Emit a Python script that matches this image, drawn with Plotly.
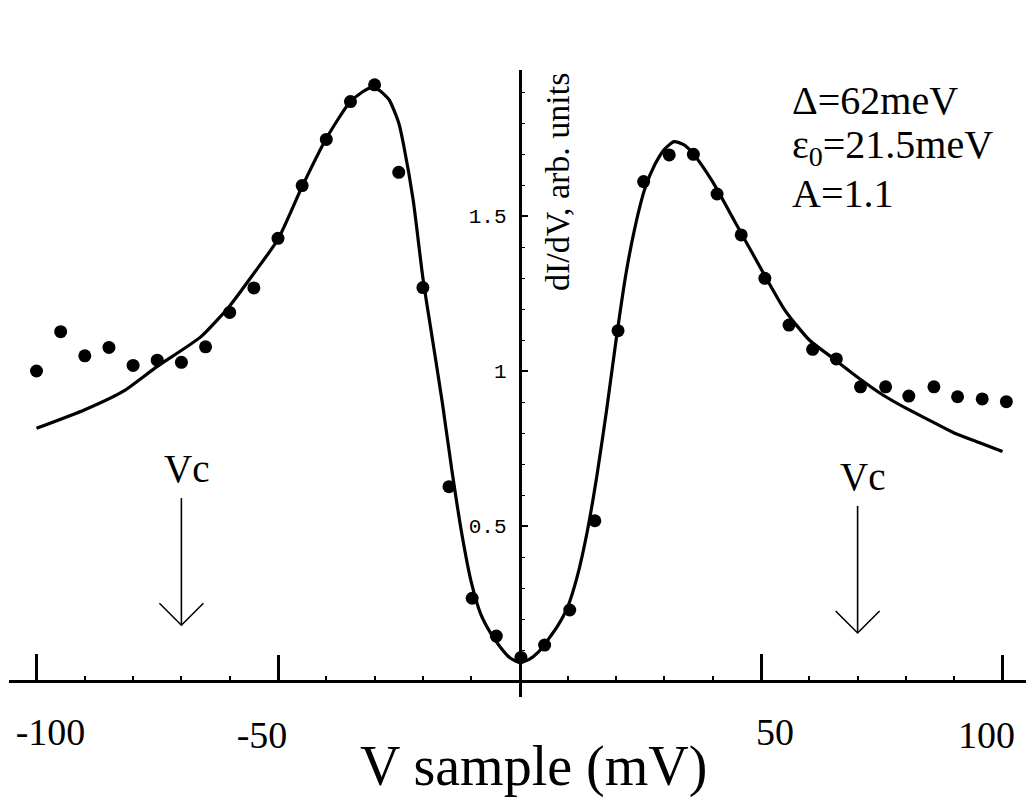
import plotly.graph_objects as go

# ---------------- data ----------------
pts_x = [-100.0, -95.0, -90.0, -85.0, -80.0, -75.0, -70.0, -65.0, -60.0, -55.0,
         -50.0, -45.0, -40.0, -35.0, -30.0, -25.0, -20.0, -14.6, -9.8, -4.8,
         0.3, 5.2, 10.4, 15.6, 20.4, 25.7, 31.0, 36.0, 40.9, 45.9,
         50.8, 55.8, 60.7, 65.6, 70.6, 75.8, 80.6, 85.8, 90.7, 95.8, 100.8]
pts_y = [1.000, 1.127, 1.049, 1.076, 1.018, 1.035, 1.028, 1.078, 1.189, 1.268,
         1.428, 1.598, 1.747, 1.869, 1.923, 1.641, 1.269, 0.627, 0.267, 0.145,
         0.076, 0.116, 0.229, 0.517, 1.130, 1.611, 1.697, 1.699, 1.571, 1.439,
         1.299, 1.148, 1.070, 1.039, 0.949, 0.949, 0.919, 0.949, 0.917, 0.910, 0.901]

fit_x = [-100, -90, -82, -75, -66, -60, -55, -50, -45, -40, -35, -32, -30.5, -29, -27,
         -25, -24, -22, -20, -18, -16, -14, -12, -10, -8, -6, -4, -2, 0, 2, 4, 6, 8,
         10, 12, 14, 16, 18, 20, 22, 24, 26, 28, 30, 32, 34, 36, 40, 45, 50, 55, 60,
         65, 70, 75, 80, 85, 90, 95, 100]
fit_y = [0.815, 0.875, 0.935, 1.015, 1.11, 1.21, 1.315, 1.425, 1.595, 1.75, 1.87, 1.905,
         1.915, 1.905, 1.875, 1.80, 1.73, 1.55, 1.30, 1.10, 0.90, 0.68, 0.48, 0.32, 0.215,
         0.155, 0.11, 0.075, 0.06, 0.07, 0.095, 0.135, 0.18, 0.24, 0.34, 0.48, 0.66, 0.87,
         1.10, 1.31, 1.47, 1.59, 1.665, 1.715, 1.74, 1.73, 1.70, 1.61, 1.47, 1.33, 1.195,
         1.10, 1.04, 0.98, 0.925, 0.88, 0.84, 0.80, 0.77, 0.74]

# major x ticks: printed labels sit a bit right of ticks -100/50 and left of -50/100
x_ticks_a = [-100, 50]
x_text_a = ["-100", "50"]
x_ticks_b = [-50, 100]
x_text_b = ["-50", "100"]
x_minor = [-90, -80, -70, -60, -40, -30, -20, -10, 10, 20, 30, 40, 60, 70, 80, 90]
y_tickvals = [0.5, 1, 1.5]
y_ticktext = ["0.5", "1", "1.5"]
y_minor = [0.1, 0.2, 0.3, 0.4, 0.6, 0.7, 0.8, 0.9, 1.1, 1.2, 1.3, 1.4, 1.6, 1.7, 1.8, 1.9]

vc_x = [-70, 70]
vc_tip = [0.18, 0.155]
vc_top = [0.59, 0.565]
vc_label = ["Vc", "Vc"]

params = ["Δ=62meV", "ε<sub>0</sub>=21.5meV", "A=1.1"]

# ---------------- figure ----------------
W, H = 1026, 803
L, R, T, B = 9, 0, 70, 106
pw, ph = W - L - R, H - T - B
x0px, xscale = 519.5, 4.83
y0px, yscale = 681.0, 310.0

xr = [(L - x0px) / xscale, (W - R - x0px) / xscale]
yr = [-(H - B - y0px) / yscale, (y0px - T) / yscale]

serif = "Liberation Serif, Times New Roman, serif"
mono = "Liberation Mono, Courier New, monospace"

fig = go.Figure()
fig.add_trace(go.Scatter(x=fit_x, y=fit_y, mode="lines",
                         line=dict(color="black", width=3.2, shape="spline", smoothing=0.6),
                         hoverinfo="skip", showlegend=False))
fig.add_trace(go.Scatter(x=pts_x, y=pts_y, mode="markers",
                         marker=dict(color="black", size=13),
                         showlegend=False))
# invisible copy on the overlay axis so that it is drawn
fig.add_trace(go.Scatter(x=pts_x, y=pts_y, mode="markers", xaxis="x2",
                         marker=dict(color="black", size=1, opacity=0),
                         hoverinfo="skip", showlegend=False))

def px2paper_x(p):
    return (p - L) / pw

def px2paper_y(p):
    return (H - B - p) / ph

xpos = (H - B - y0px) / ph
common_x = dict(range=xr, showgrid=False, zeroline=False, anchor="free", position=xpos,
                tickmode="array", ticks="inside", ticklen=26, tickwidth=2.5,
                tickcolor="black", ticklabeloverflow="allow",
                tickfont=dict(family=serif, size=38, color="black"))

fig.update_layout(
    width=W, height=H,
    margin=dict(l=L, r=R, t=T, b=B, pad=0, autoexpand=False),
    paper_bgcolor="white", plot_bgcolor="white",
    showlegend=False,
    xaxis=dict(**common_x, showline=True, linecolor="black", linewidth=3,
               tickvals=x_ticks_a, ticktext=x_text_a, ticklabelshift=14,
               ticklabelstandoff=16,
               minor=dict(tickmode="array", tickvals=x_minor, ticks="inside",
                          ticklen=4, tickwidth=1.5, tickcolor="black")),
    xaxis2=dict(**common_x, overlaying="x", showline=False,
                tickvals=x_ticks_b, ticktext=x_text_b, ticklabelshift=-16,
                ticklabelstandoff=28),
    yaxis=dict(range=yr, showgrid=False, zeroline=False,
               anchor="free", position=(x0px - L) / pw,
               showline=True, linecolor="black", linewidth=2.5,
               tickmode="array", tickvals=y_tickvals, ticktext=y_ticktext,
               ticks="inside", ticklen=7, tickwidth=2, tickcolor="black",
               ticklabelstandoff=8, ticklabeloverflow="allow",
               tickfont=dict(family=mono, size=21, color="black"),
               minor=dict(tickmode="array", tickvals=y_minor, ticks="inside",
                          ticklen=4, tickwidth=1.3, tickcolor="black")),
)

annotations = []
# y axis title (rotated, right of the axis)
annotations.append(dict(text="dI/dV, arb. units", xref="paper", yref="paper",
                        x=px2paper_x(557), y=px2paper_y(182), showarrow=False,
                        textangle=-90, xanchor="center", yanchor="middle",
                        font=dict(family=serif, size=34, color="black")))
# x axis title
annotations.append(dict(text="V sample (mV)", xref="paper", yref="paper",
                        x=px2paper_x(533), y=px2paper_y(766), showarrow=False,
                        xanchor="center", yanchor="middle",
                        font=dict(family=serif, size=56, color="black")))
# parameters
for i, t in enumerate(params):
    annotations.append(dict(text=t, xref="paper", yref="paper",
                            x=px2paper_x(790), y=px2paper_y(100 + 47 * i), showarrow=False,
                            xanchor="left", yanchor="middle",
                            font=dict(family=serif, size=40, color="black")))
# Vc labels
for xv, top, lab in zip(vc_x, vc_top, vc_label):
    annotations.append(dict(text=lab, xref="x", yref="y", x=xv, y=top,
                            showarrow=False, xanchor="center", yanchor="bottom",
                            yshift=6, xshift=5,
                            font=dict(family=serif, size=39, color="black")))
fig.update_layout(annotations=annotations)

shapes = []
for xv, tip, top in zip(vc_x, vc_tip, vc_top):
    shapes.append(dict(type="line", xref="x", yref="y", x0=xv, x1=xv, y0=tip, y1=top,
                       line=dict(color="black", width=1.6)))
    shapes.append(dict(type="path", xref="x", yref="y", xsizemode="pixel", ysizemode="pixel",
                       xanchor=xv, yanchor=tip, path="M-22,22 L0,0 L22,22",
                       line=dict(color="black", width=1.6)))
fig.update_layout(shapes=shapes)

fig.write_html("out.html",
               config={"displayModeBar": False},
               post_script="document.body.style.margin='0px';"
                           "document.body.style.overflow='hidden';")
